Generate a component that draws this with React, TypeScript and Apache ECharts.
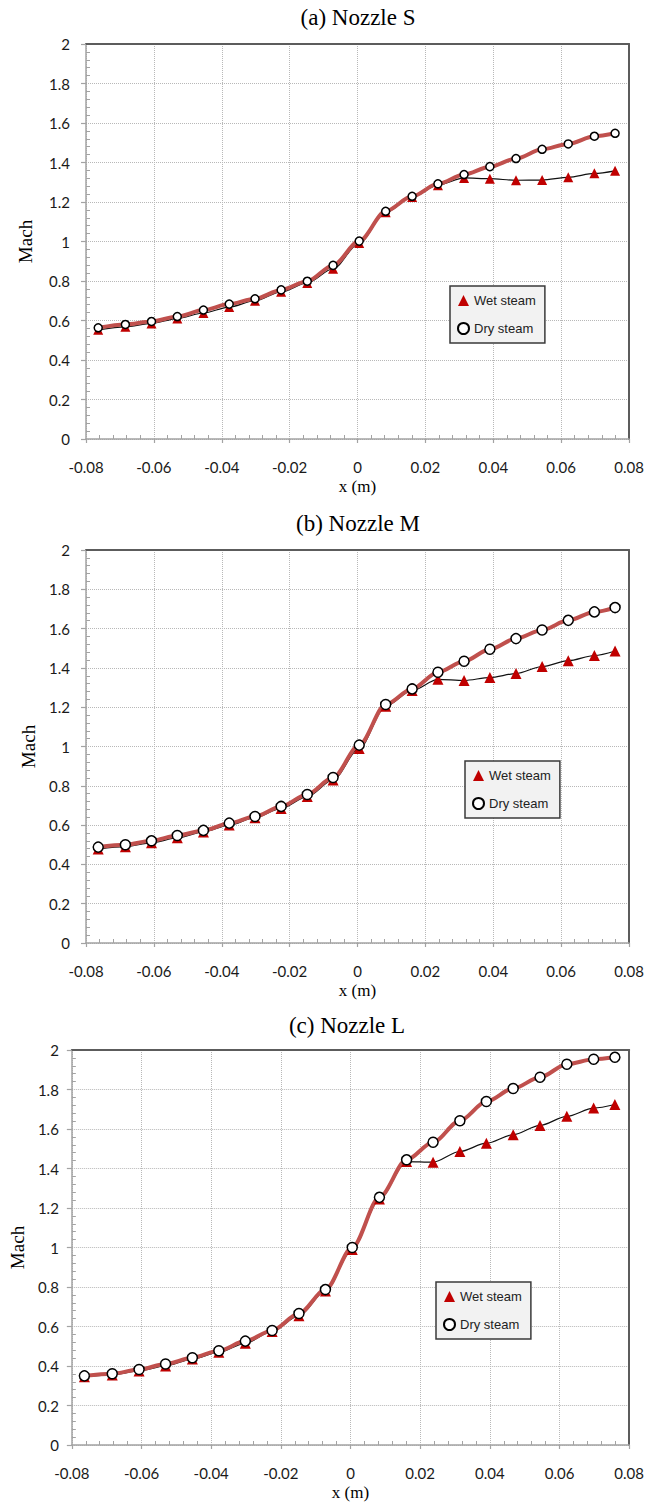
import React, { useEffect, useRef } from "react";
import * as echarts from "echarts";

// Axial positions of the plotted markers (m)
const xPositions = [
  -0.0764, -0.0684, -0.0607, -0.0531, -0.0454, -0.0378, -0.0302, -0.0225, -0.0148, -0.0072,
  0.0005, 0.0083, 0.0161, 0.0237, 0.0314, 0.039, 0.0467, 0.0544, 0.0621, 0.0698, 0.0759,
];

// (a) Nozzle S
const dryA = [0.563, 0.58, 0.595, 0.62, 0.653, 0.683, 0.71, 0.755, 0.799, 0.879, 1.002, 1.153, 1.229, 1.292, 1.339, 1.379, 1.42, 1.467, 1.494, 1.533, 1.548];
const wetA = [0.553, 0.568, 0.585, 0.61, 0.638, 0.668, 0.7, 0.745, 0.79, 0.862, 0.992, 1.148, 1.225, 1.285, 1.322, 1.318, 1.31, 1.311, 1.325, 1.345, 1.358];

// (b) Nozzle M
const dryB = [0.488, 0.5, 0.52, 0.547, 0.573, 0.61, 0.644, 0.695, 0.756, 0.842, 1.007, 1.214, 1.293, 1.378, 1.434, 1.495, 1.549, 1.593, 1.642, 1.685, 1.707];
const wetB = [0.478, 0.49, 0.51, 0.535, 0.565, 0.6, 0.638, 0.685, 0.745, 0.83, 0.99, 1.205, 1.285, 1.342, 1.336, 1.351, 1.371, 1.407, 1.437, 1.463, 1.486];

// (c) Nozzle L
const dryC = [0.35, 0.361, 0.382, 0.41, 0.442, 0.477, 0.526, 0.58, 0.666, 0.787, 1.0, 1.254, 1.444, 1.533, 1.642, 1.739, 1.805, 1.862, 1.928, 1.953, 1.963];
const wetC = [0.345, 0.355, 0.375, 0.4, 0.435, 0.47, 0.515, 0.575, 0.655, 0.78, 0.99, 1.245, 1.435, 1.432, 1.486, 1.528, 1.571, 1.618, 1.664, 1.706, 1.724];

const panelTitles = ["(a) Nozzle S", "(b) Nozzle M", "(c) Nozzle L"];
const seriesNames = ["Wet steam", "Dry steam"];
const xAxisTitle = "x (m)";
const yAxisTitle = "Mach";

const X_MIN = -0.08;
const X_MAX = 0.08;
const X_STEP = 0.02;
const Y_MIN = 0;
const Y_MAX = 2;
const Y_STEP = 0.2;

const zip = (xs: number[], ys: number[]) => xs.map((x, i) => [x, ys[i]]);

export default function App() {
  const ref = useRef<HTMLDivElement>(null);

  useEffect(() => {
    if (!ref.current) return;
    const chart = echarts.init(ref.current, null, { renderer: "svg" });

    const panels = [
      { title: panelTitles[0], dry: dryA, wet: wetA, grid: { left: 86, top: 44, width: 543, height: 395 }, legend: { left: 450, top: 286 }, titlePos: [358, 17], nameGapY: 51, marginY: 16, circle: 8, tri: 10 },
      { title: panelTitles[1], dry: dryB, wet: wetB, grid: { left: 86, top: 550, width: 543, height: 393 }, legend: { left: 465, top: 761 }, titlePos: [358, 523], nameGapY: 47, marginY: 16, circle: 10, tri: 11 },
      { title: panelTitles[2], dry: dryC, wet: wetC, grid: { left: 68, top: 1050, width: 563, height: 398 }, legend: { left: 436, top: 1282 }, titlePos: [347, 1025], nameGapY: 39, marginY: 13, circle: 10, tri: 11 },
    ];

    const axisGray = "#a3a3a3";
    const frameColor = "#5c5c5c";
    const gridLine = { show: true, lineStyle: { color: "#b8b8b8", type: "dotted", width: 1 } };
    const tickFont = { fontFamily: "Lato", fontSize: 15, color: "#1a1a1a" };
    const serifName = { fontFamily: "Liberation Serif", color: "#000" };

    const grid: any[] = [];
    const xAxis: any[] = [];
    const yAxis: any[] = [];
    const series: any[] = [];
    const legend: any[] = [];
    const graphic: any[] = [];

    panels.forEach((p, i) => {
      grid.push({ ...p.grid, show: false, containLabel: false });

      const xb = { gridIndex: i, type: "value", min: X_MIN, max: X_MAX, interval: X_STEP };
      const yb = { gridIndex: i, type: "value", min: Y_MIN, max: Y_MAX, interval: Y_STEP };

      // main x axis
      xAxis.push({
        ...xb,
        position: "bottom",
        name: xAxisTitle,
        nameLocation: "middle",
        nameGap: 39,
        nameTextStyle: { ...serifName, fontSize: 17 },
        axisLine: { show: true, onZero: false, lineStyle: { color: axisGray, width: 1.5 } },
        axisTick: { show: true, inside: false, length: 4, lineStyle: { color: axisGray, width: 1.2 } },
        axisLabel: { ...tickFont, margin: 20 },
        splitLine: gridLine,
      });
      // minor ticks (inside)
      xAxis.push({
        ...xb,
        position: "bottom",
        axisLine: { show: false, onZero: false },
        axisTick: { show: false, inside: true },
        minorTick: { show: true, splitNumber: 5, length: 4, lineStyle: { color: axisGray, width: 1 } },
        axisLabel: { show: false },
        splitLine: { show: false },
      });
      // top frame
      xAxis.push({
        ...xb,
        position: "top",
        axisLine: { show: true, onZero: false, lineStyle: { color: frameColor, width: 2 } },
        axisTick: { show: false },
        axisLabel: { show: false },
        splitLine: { show: false },
      });

      // main y axis
      yAxis.push({
        ...yb,
        position: "left",
        name: yAxisTitle,
        nameLocation: "middle",
        nameRotate: 90,
        nameGap: p.nameGapY,
        nameTextStyle: { ...serifName, fontSize: 19 },
        axisLine: { show: true, onZero: false, lineStyle: { color: axisGray, width: 1.5 } },
        axisTick: { show: true, inside: false, length: 5, lineStyle: { color: axisGray, width: 1.2 } },
        axisLabel: { ...tickFont, margin: p.marginY },
        splitLine: gridLine,
      });
      // minor ticks (inside)
      yAxis.push({
        ...yb,
        position: "left",
        axisLine: { show: false, onZero: false },
        axisTick: { show: false, inside: true },
        minorTick: { show: true, splitNumber: 5, length: 4, lineStyle: { color: axisGray, width: 1 } },
        axisLabel: { show: false },
        splitLine: { show: false },
      });
      // right frame
      yAxis.push({
        ...yb,
        position: "right",
        axisLine: { show: true, onZero: false, lineStyle: { color: frameColor, width: 2 } },
        axisTick: { show: false },
        axisLabel: { show: false },
        splitLine: { show: false },
      });

      const xi = i * 3;
      const yi = i * 3;

      series.push({
        name: "wet-curve-" + i,
        type: "line",
        xAxisIndex: xi,
        yAxisIndex: yi,
        data: zip(xPositions, p.wet),
        smooth: 0.3,
        smoothMonotone: "x",
        symbol: "none",
        lineStyle: { color: "#111", width: 1.2 },
        z: 2,
        silent: true,
      });
      series.push({
        name: "dry-curve-" + i,
        type: "line",
        xAxisIndex: xi,
        yAxisIndex: yi,
        data: zip(xPositions, p.dry),
        smooth: 0.3,
        smoothMonotone: "x",
        symbol: "none",
        lineStyle: { color: "#c0504d", width: 4 },
        z: 3,
        silent: true,
      });
      series.push({
        name: seriesNames[0],
        type: "scatter",
        xAxisIndex: xi,
        yAxisIndex: yi,
        data: zip(xPositions, p.wet),
        symbol: "triangle",
        symbolSize: p.tri,
        itemStyle: { color: "#c00000", opacity: 1 },
        z: 4,
      });
      series.push({
        name: seriesNames[1],
        type: "scatter",
        xAxisIndex: xi,
        yAxisIndex: yi,
        data: zip(xPositions, p.dry),
        symbol: "circle",
        symbolSize: p.circle,
        itemStyle: { color: "#ffffff", borderColor: "#000", borderWidth: 1.5, opacity: 1 },
        z: 5,
      });

      legend.push({
        left: p.legend.left,
        top: p.legend.top,
        orient: "vertical",
        data: [
          { name: seriesNames[0], icon: "triangle" },
          { name: seriesNames[1], icon: "circle" },
        ],
        itemWidth: 11,
        itemHeight: 11,
        itemGap: 15,
        padding: [8, 9, 8, 7],
        backgroundColor: "#f2f2f2",
        borderColor: "#3a3a3a",
        borderWidth: 1.5,
        borderRadius: 0,
        textStyle: { fontFamily: "Liberation Sans", fontSize: 13, color: "#222" },
        selectedMode: false,
      });

      graphic.push({
        type: "text",
        x: p.titlePos[0],
        y: p.titlePos[1],
        style: {
          text: p.title,
          font: '23px "Liberation Serif"',
          fill: "#000",
          textAlign: "center",
          textVerticalAlign: "middle",
        },
      });
    });

    chart.setOption({
      animation: false,
      backgroundColor: "#ffffff",
      grid,
      xAxis,
      yAxis,
      series,
      legend,
      graphic,
    });

    return () => {
      chart.dispose();
    };
  }, []);

  return (
    <div
      ref={ref}
      style={{ position: "absolute", left: 0, top: 0, width: 647, height: 1502 }}
    />
  );
}
